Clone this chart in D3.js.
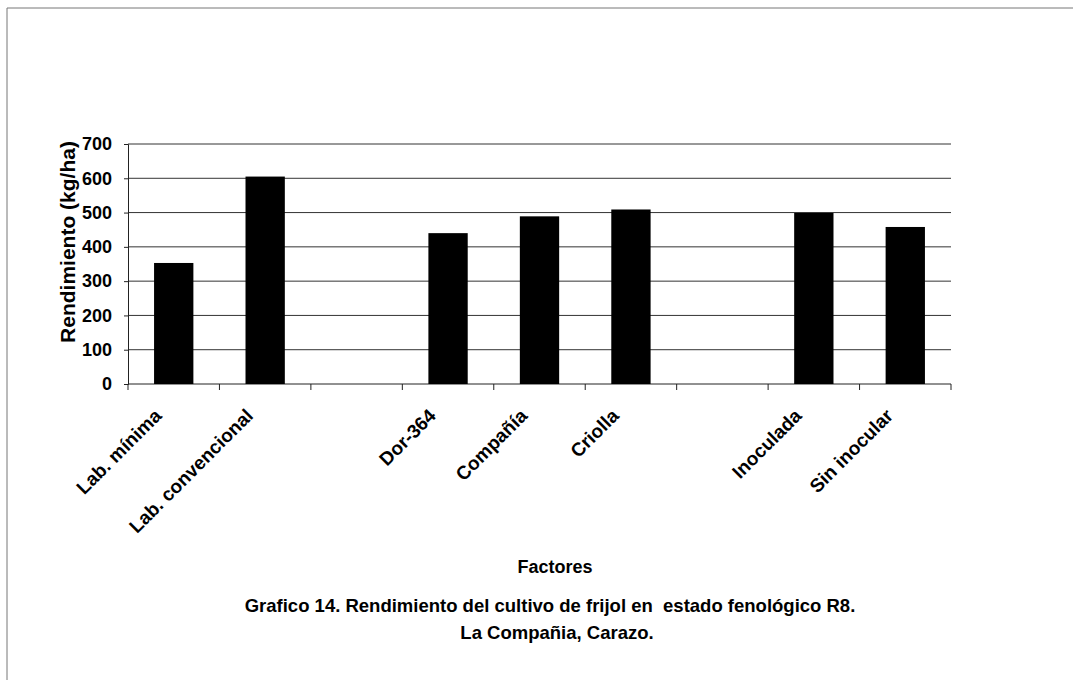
<!DOCTYPE html>
<html>
<head>
<meta charset="utf-8">
<script src="https://cdn.jsdelivr.net/npm/d3@7"></script>
<style>
  body { margin: 0; background: #fff; }
  text { font-family: Arial, "Liberation Sans", sans-serif; font-weight: bold; fill: #000; }
</style>
</head>
<body>
<svg id="chart" width="1073" height="680"></svg>
<script>
// data (two blank slots separate the factor groups)
var categories = ["Lab. mínima", "Lab. convencional", "", "Dor-364", "Compañía", "Criolla", "", "Inoculada", "Sin inocular"];
var rendimiento = [353, 605, null, 440, 489, 509, null, 499, 458];
var yTicks = [0, 100, 200, 300, 400, 500, 600, 700];
var yLabel = "Rendimiento (kg/ha)";
var xLabel = "Factores";
var titleLines = ["Grafico 14. Rendimiento del cultivo de frijol en  estado fenológico R8.", "La Compañia, Carazo."];

var margin = {top: 144, left: 128},
    width = 823,
    height = 240;

var svg = d3.select("#chart");

// scanned page frame
svg.append("line").attr("x1", 7).attr("y1", 8).attr("x2", 1073).attr("y2", 8)
    .attr("stroke", "#777").attr("stroke-width", 1);
svg.append("line").attr("x1", 7).attr("y1", 8).attr("x2", 7).attr("y2", 680)
    .attr("stroke", "#777").attr("stroke-width", 1);

var chart = svg.append("g")
    .attr("transform", "translate(" + margin.left + "," + margin.top + ")");

var data = categories.map(function(c, i) { return {id: i, name: c, value: rendimiento[i]}; });

var x = d3.scaleBand()
    .domain(data.map(function(d) { return d.id; }))
    .range([0, width])
    .padding(0);

var y = d3.scaleLinear()
    .domain([0, 700])
    .range([height, 0]);

// gridlines
chart.selectAll(".grid")
    .data(yTicks.filter(function(t) { return t > 0; }))
  .enter().append("line")
    .attr("class", "grid")
    .attr("x1", 0).attr("x2", width)
    .attr("y1", function(d) { return y(d); })
    .attr("y2", function(d) { return y(d); })
    .attr("stroke", "#333").attr("stroke-width", 1);

// y axis
var yAxis = chart.append("g")
    .call(d3.axisLeft(y).tickValues(yTicks).tickSize(4).tickPadding(12));
yAxis.select(".domain").attr("stroke", "#222");
yAxis.selectAll(".tick line").attr("stroke", "#222");
yAxis.selectAll("text").style("font-size", "18px").attr("fill", "#000");

// x axis: ticks at the category boundaries
var bounds = d3.range(categories.length + 1).map(function(i) { return i * x.step(); });
chart.append("line")
    .attr("x1", 0).attr("x2", width)
    .attr("y1", height).attr("y2", height)
    .attr("stroke", "#222");
chart.selectAll(".xtick")
    .data(bounds)
  .enter().append("line")
    .attr("class", "xtick")
    .attr("x1", function(d) { return d; }).attr("x2", function(d) { return d; })
    .attr("y1", height).attr("y2", height + 6)
    .attr("stroke", "#222");

// bars
var bw = x.bandwidth();
chart.selectAll(".bar")
    .data(data.filter(function(d) { return d.value != null; }))
  .enter().append("rect")
    .attr("class", "bar")
    .attr("x", function(d) { return x(d.id) + bw * 0.285; })
    .attr("width", bw * 0.43)
    .attr("y", function(d) { return y(d.value); })
    .attr("height", function(d) { return height - y(d.value); })
    .attr("fill", "#000");

// rotated category labels
chart.selectAll(".xlabel")
    .data(data.filter(function(d) { return d.name !== ""; }))
  .enter().append("text")
    .attr("class", "xlabel")
    .attr("transform", function(d) {
      return "translate(" + (x(d.id) + bw / 2 - 11) + "," + (height + 33) + ") rotate(-45)";
    })
    .attr("text-anchor", "end")
    .style("font-size", "19px")
    .text(function(d) { return d.name; });

// axis titles
svg.append("text")
    .attr("transform", "translate(75,242) rotate(-90)")
    .attr("text-anchor", "middle")
    .style("font-size", "21px")
    .text(yLabel);

svg.append("text")
    .attr("x", 555).attr("y", 573)
    .attr("text-anchor", "middle")
    .style("font-size", "18px")
    .text(xLabel);

svg.selectAll(".title")
    .data(titleLines)
  .enter().append("text")
    .attr("class", "title")
    .attr("x", function(d, i) { return i === 0 ? 550 : 557; })
    .attr("y", function(d, i) { return 612 + i * 27; })
    .attr("text-anchor", "middle")
    .style("font-size", "18.5px")
    .style("white-space", "pre")
    .text(function(d) { return d; });
</script>
</body>
</html>
